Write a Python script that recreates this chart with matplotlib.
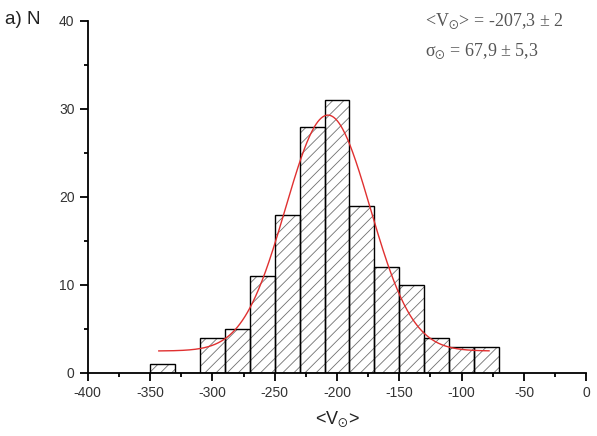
import numpy as np
import matplotlib.pyplot as plt

# histogram data (bin left edges, counts)
bin_left = [-350, -330, -310, -290, -270, -250, -230, -210, -190, -170, -150, -130, -110, -90]
counts = [1, 0, 4, 5, 11, 18, 28, 31, 19, 12, 10, 4, 3, 3]
bin_width = 20

# gaussian fit parameters (Origin style: w = 2*sigma)
y0 = 2.5
xc = -207.3
w = 67.9
amp = 26.8
fit_range = (-343, -78)

plt.rcParams['font.family'] = ['Liberation Sans', 'DejaVu Sans']
plt.rcParams['axes.unicode_minus'] = False
plt.rcParams['hatch.linewidth'] = 0.6
plt.rcParams['mathtext.fontset'] = 'stix'

fig = plt.figure(figsize=(5.97, 4.36), dpi=100)
ax = fig.add_axes([0.147, 0.1445, 0.835, 0.8075])

# hatched fill in gray, then black outlines on top
ax.bar(bin_left, counts, width=bin_width, align='edge', color='white',
       edgecolor='#707070', hatch='///', linewidth=0)
ax.bar(bin_left, counts, width=bin_width, align='edge', fill=False,
       edgecolor='black', linewidth=1.0)

xs = np.linspace(fit_range[0], fit_range[1], 400)
ys = y0 + amp * np.exp(-2 * (xs - xc) ** 2 / w ** 2)
ax.plot(xs, ys, color='#e03030', linewidth=1.0)

ax.set_xlim(-400, 0)
ax.set_ylim(0, 40)
ax.set_xticks(np.arange(-400, 1, 50))
ax.set_xticks(np.arange(-375, 0, 50), minor=True)
ax.set_yticks(np.arange(0, 41, 10))
ax.set_yticks(np.arange(5, 40, 10), minor=True)
ax.spines['top'].set_visible(False)
ax.spines['right'].set_visible(False)
ax.spines['left'].set_linewidth(1.3)
ax.spines['bottom'].set_linewidth(1.3)
ax.tick_params(which='major', length=6, width=1.3, labelsize=10, labelcolor='#333333')
ax.tick_params(which='minor', length=3, width=1.3)

ax.set_xlabel(r'<V$_{\odot}$>', fontsize=13, color='#222222', labelpad=6)
fig.text(0.008, 0.945, 'a) N', fontsize=13.5, color='#222222')

serif = ['Liberation Serif', 'DejaVu Serif']
fig.text(0.712, 0.942, r'<V$_{\odot}$> = -207,3 ± 2', fontsize=13, color='#555555', family=serif)
fig.text(0.712, 0.872, r'σ$_{\odot}$ = 67,9 ± 5,3', fontsize=13, color='#555555', family=serif)

fig.savefig('out.png', dpi=100)
